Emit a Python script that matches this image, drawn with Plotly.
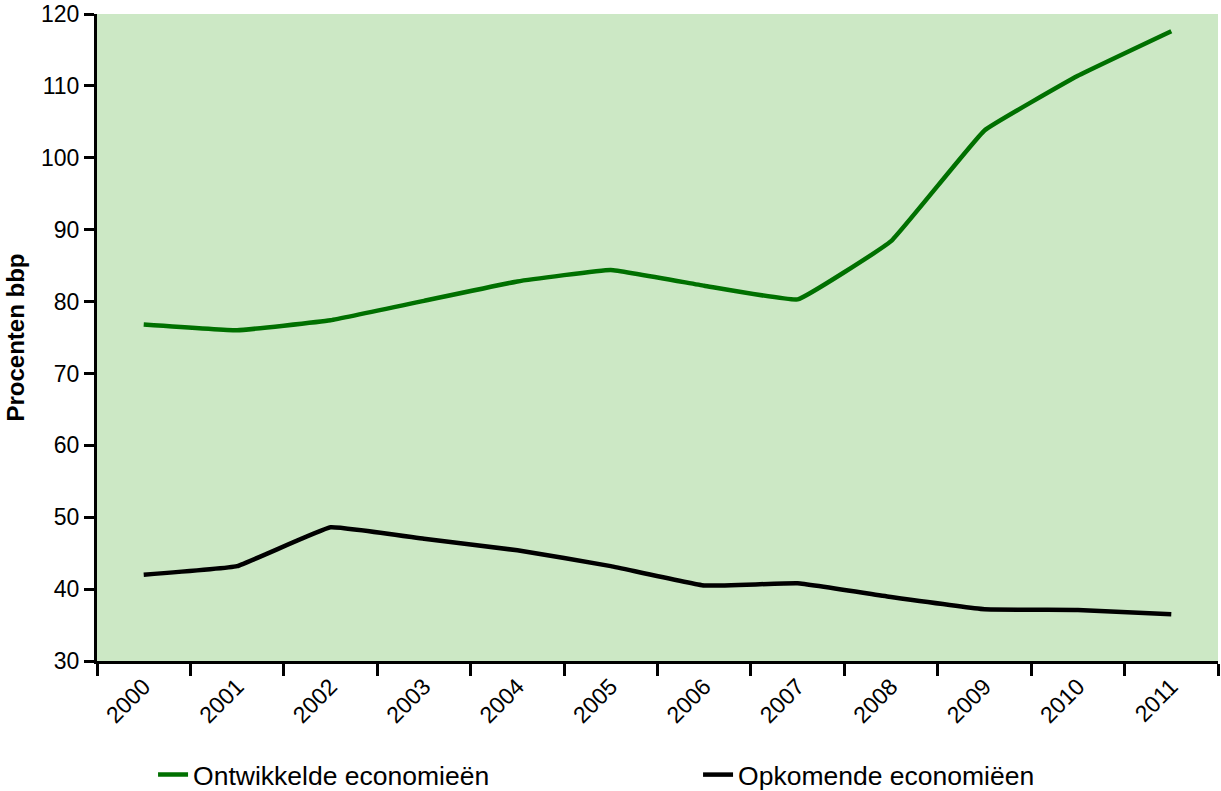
import plotly.graph_objects as go

years = ["2000", "2001", "2002", "2003", "2004", "2005", "2006", "2007", "2008", "2009", "2010", "2011"]
ontwikkelde = [76.8, 76.0, 77.4, 80.1, 82.8, 84.4, 82.2, 80.3, 88.4, 103.8, 111.4, 117.6]
opkomende = [42.0, 43.2, 48.6, 47.0, 45.4, 43.2, 40.5, 40.8, 38.9, 37.2, 37.1, 36.5]

font_family = "Liberation Sans, Arial, sans-serif"

fig = go.Figure()
fig.add_trace(go.Scatter(x=years, y=ontwikkelde, mode="lines", name="Ontwikkelde economieën",
                         line=dict(color="#007000", width=4.5, shape="spline", smoothing=0.25)))
fig.add_trace(go.Scatter(x=years, y=opkomende, mode="lines", name="Opkomende economiëen",
                         line=dict(color="#000000", width=4.5, shape="spline", smoothing=0.25)))

fig.update_layout(
    width=1221, height=791,
    margin=dict(l=97, r=3, t=14, b=130, autoexpand=False),
    paper_bgcolor="white",
    plot_bgcolor="#cce8c5",
    font=dict(family=font_family, size=23, color="black"),
    showlegend=True,
    legend=dict(orientation="h", x=0.05, xanchor="left", y=-0.176, yanchor="middle",
                entrywidth=500, entrywidthmode="pixels", font=dict(size=26.5),
                bgcolor="rgba(0,0,0,0)"),
)
fig.update_xaxes(type="category", tickson="boundaries", ticks="outside", ticklen=12, tickwidth=3,
                 tickcolor="black", showline=True, linecolor="black", linewidth=3,
                 showgrid=False, tickangle=-45, tickfont=dict(size=23), range=[-0.5, 11.5])
fig.update_yaxes(range=[30, 120], tickmode="array", tickvals=list(range(30, 121, 10)),
                 ticks="outside", ticklen=10, tickwidth=3, tickcolor="black",
                 showline=True, linecolor="black", linewidth=3, showgrid=False, zeroline=False,
                 tickfont=dict(size=23), ticklabeloverflow="allow",
                 title=dict(text="<b>Procenten bbp</b>", font=dict(size=24), standoff=10))

fig.write_html("out.html")
